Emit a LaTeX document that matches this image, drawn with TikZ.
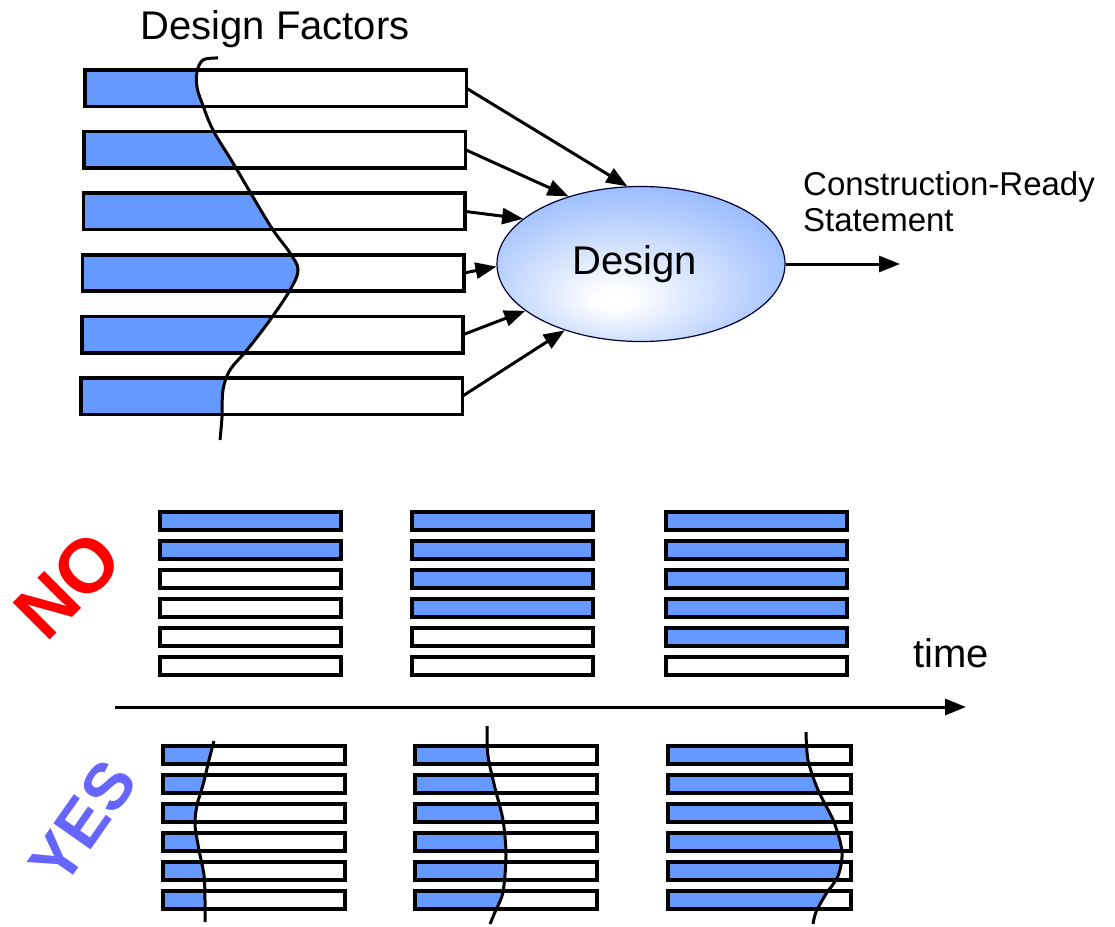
\documentclass[tikz,border=0pt]{standalone}
\usepackage{fontspec}
\setmainfont{Liberation Sans}
\usetikzlibrary{shapes.geometric,arrows.meta}
\definecolor{factorblue}{RGB}{102,153,255}
\definecolor{nored}{RGB}{255,0,0}
\definecolor{yesblue}{RGB}{102,102,255}
\newcommand{\barcolor}{factorblue}
\newcommand{\bigfont}{\fontsize{40}{48}\selectfont}
\pgfdeclareradialshading{designshade}{\pgfpoint{-5bp}{-12bp}}{color(0bp)=(white); color(3bp)=(white); color(22bp)=(factorblue!45!white); color(46bp)=(factorblue); color(60bp)=(factorblue)}

\begin{document}
\begin{tikzpicture}[x=1pt, y=-1pt, >={Triangle[length=21pt,width=16pt]},
    factor/.style={minimum width=381pt, minimum height=36pt, inner sep=0pt, anchor=north west},
    design/.style={ellipse, draw=black!80!blue, line width=1.2pt, shading=designshade,
        minimum width=288pt, minimum height=155pt, inner sep=0pt, font=\bigfont},
    feed/.style={->, line width=3pt},
    wave/.style={line width=3pt},
    smallbar/.style={line width=3.2pt}]
    \useasboundingbox (0,0) rectangle (1115,926);

    % design factors
    \foreach \i in {1,...,6}
        \node[factor] (f\i) at ({85.8-0.8*\i}, {8.4+61.6*\i}) {};
    \begin{scope}
        \clip \foreach \i in {1,...,6} {(f\i.south west) rectangle (f\i.north east)};
        \fill[\barcolor] plot[smooth, tension=0.6] coordinates {(218,58) (203,60) (197,72) (197,87) (202,103) (213,130) (233,163) (253,197) (273,230) (290,253) (298,270) (290,290) (270,320) (247,350) (230,370) (223,390) (222,417) (220,440)}
            -- (0,440) -- (0,58) -- cycle;
    \end{scope}
    \foreach \i in {1,...,6}
        \draw[line width=3.5pt] (f\i.south west) rectangle (f\i.north east);
    \draw[wave] plot[smooth, tension=0.6] coordinates {(218,58) (203,60) (197,72) (197,87) (202,103) (213,130) (233,163) (253,197) (273,230) (290,253) (298,270) (290,290) (270,320) (247,350) (230,370) (223,390) (222,417) (220,440)};
    \node[font=\bigfont, anchor=base] (dflbl) at (275,39) {Design Factors};

    \node[design] (dsg) at (641,264) {\raisebox{6pt}{Design}\hspace*{12pt}};
    \foreach \i/\a in {1/100, 2/137, 3/159, 4/181, 5/202, 6/221}
        \draw[feed] (f\i.east) -- (dsg.\a);

    \coordinate (out) at (900,264);
    \draw[feed] (dsg.east) -- (out);
    \node[anchor=north west, align=left, inner sep=0pt, font=\fontsize{33}{36}\selectfont] (outlbl) at (803,171) {Construction-Ready\\Statement};

    % time axis
    \coordinate (t0) at (115,707);
    \coordinate (t1) at (966,707);
    \draw[feed] (t0) -- (t1);
    \node[anchor=base west, inner sep=0pt, font=\bigfont] (timelbl) at (913,667) {time};

    % NO: whole factors, one after another
    \node[rotate=45, text=nored, font=\bfseries\fontsize{76}{76}\selectfont] (no) at (68,585) {NO};
    \foreach \gx/\n in {160/2, 412/4, 666/5}
        \foreach \r in {1,...,6} {
            \ifnum\r>\n \def\barfill{white}\else\def\barfill{\barcolor}\fi
            \draw[smallbar, fill=\barfill] (\gx, 483+29*\r) rectangle ++(181,18);
        }

    % YES: all factors grow together
    \node[rotate=55, text=yesblue, font=\bfseries\fontsize{66}{66}\selectfont] (yes) at (83,822) {YES};
    \begin{scope}
        \clip \foreach \r in {1,...,6} {(163, 717+29*\r) rectangle ++(182,18)};
        \fill[\barcolor] plot[smooth] coordinates {(214,741) (209,760) (203,785) (197,805) (195,825) (199,850) (204,875) (205,900) (205,922)} -- (0,922) -- (0,741) -- cycle;
    \end{scope}
    \foreach \r in {1,...,6}
        \draw[smallbar] (163, 717+29*\r) rectangle ++(182,18);
    \draw[wave] plot[smooth] coordinates {(214,741) (209,760) (203,785) (197,805) (195,825) (199,850) (204,875) (205,900) (205,922)};

    \begin{scope}
        \clip \foreach \r in {1,...,6} {(415, 717+29*\r) rectangle ++(182,18)};
        \fill[\barcolor] plot[smooth] coordinates {(487,726) (488,756) (495,788) (503,820) (506,855) (503,892) (495,912) (490,924)} -- (0,924) -- (0,726) -- cycle;
    \end{scope}
    \foreach \r in {1,...,6}
        \draw[smallbar] (415, 717+29*\r) rectangle ++(182,18);
    \draw[wave] plot[smooth] coordinates {(487,726) (488,756) (495,788) (503,820) (506,855) (503,892) (495,912) (490,924)};

    \begin{scope}
        \clip \foreach \r in {1,...,6} {(668, 717+29*\r) rectangle ++(183,18)};
        \fill[\barcolor] plot[smooth] coordinates {(806,732) (808,760) (818,790) (834,822) (842,852) (838,876) (826,894) (816,912) (813,924)} -- (0,924) -- (0,732) -- cycle;
    \end{scope}
    \foreach \r in {1,...,6}
        \draw[smallbar] (668, 717+29*\r) rectangle ++(183,18);
    \draw[wave] plot[smooth] coordinates {(806,732) (808,760) (818,790) (834,822) (842,852) (838,876) (826,894) (816,912) (813,924)};
\end{tikzpicture}
\end{document}
